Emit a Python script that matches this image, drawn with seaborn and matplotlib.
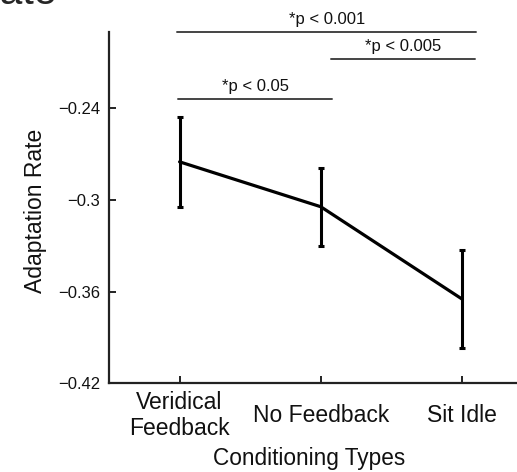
import matplotlib
matplotlib.use("Agg")
import matplotlib.pyplot as plt
import seaborn as sns
import numpy as np
import pandas as pd

# ---- data ----
categories = ["Veridical\nFeedback", "No Feedback", "Sit Idle"]
means = [-0.275, -0.3044, -0.3648]
errors = [0.0296, 0.0255, 0.0322]
ytick_values = [-0.42, -0.36, -0.30, -0.24]
ytick_labels = ["\u22120.42", "\u22120.36", "\u22120.3", "\u22120.24"]
sig_labels = ["*p < 0.001", "*p < 0.005", "*p < 0.05"]
sig_x0 = [-0.016, 1.07, -0.01]
sig_x1 = [2.10, 2.09, 1.08]
sig_y = [-0.190, -0.2077, -0.2339]

sns.set_theme(style="white")
plt.rcParams["font.family"] = ["Liberation Sans", "DejaVu Sans"]

W, H = 517, 472
fig = plt.figure(figsize=(W / 100, H / 100), dpi=100)
left, right, top, bottom = 109, 517, 32, 383.3
ax = fig.add_axes([left / W, 1 - bottom / H, (right - left) / W, (bottom - top) / H])

df = pd.DataFrame({"cond": categories, "rate": means})
pos = np.arange(len(categories))
sns.lineplot(x=pos, y=means, ax=ax, color="black", lw=2.3, zorder=3)
ax.errorbar(pos, means, yerr=errors, fmt="none", ecolor="black",
            elinewidth=2.2, capsize=2, capthick=2.2, zorder=3)

ax.set_xlim(-0.5, 2.39)
ax.set_ylim(-0.42, -0.19)
ax.set_xticks(pos)
ax.set_xticklabels(categories, fontsize=16.5, va="center", linespacing=1.15)
ax.set_yticks(ytick_values)
ax.set_yticklabels(ytick_labels, fontsize=12)

for s in ["top", "right"]:
    ax.spines[s].set_visible(False)
for s in ["left", "bottom"]:
    ax.spines[s].set_color("#222222")
    ax.spines[s].set_linewidth(1.6)

ax.tick_params(axis="y", direction="in", length=5, width=1.4, pad=6.5,
               colors="#222222", labelcolor="#111111", left=True)
ax.tick_params(axis="x", direction="in", length=5, width=1.4, pad=23,
               colors="#222222", labelcolor="#111111", bottom=True)

ax.set_xlabel("Conditioning Types", fontsize=16.3, color="#111111")
ax.set_ylabel("Adaptation Rate", fontsize=16.5, color="#111111")
ax.xaxis.set_label_coords(0.49, -(458 - bottom) / (bottom - top))
ax.xaxis.label.set_va("center")
ax.yaxis.set_label_coords((36 - left) / (right - left), 0.49)
ax.yaxis.label.set_va("center")

for lab, x0, x1, y in zip(sig_labels, sig_x0, sig_x1, sig_y):
    ax.plot([x0, x1], [y, y], color="#444444", lw=1.4, clip_on=False)
    ax.annotate(lab, xy=((x0 + x1) / 2, y), xytext=(0, 9), textcoords="offset points",
                ha="center", va="center", fontsize=12, color="#111111",
                annotation_clip=False)

# clipped fragment of an upper title
fig.text(57 / W, 1 - 3.5 / H, "Rate", ha="right", va="baseline", fontsize=29.5)

fig.savefig("out.png", dpi=100)
